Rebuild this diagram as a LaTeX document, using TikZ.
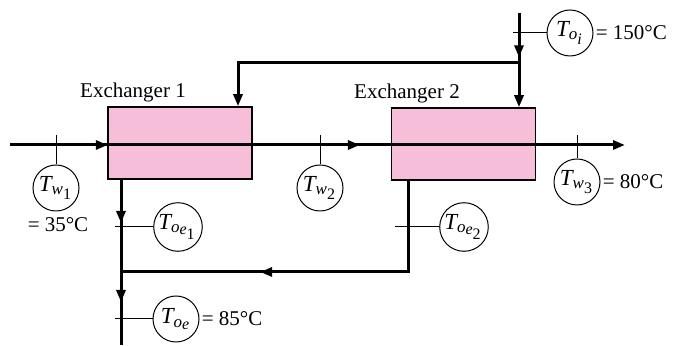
\documentclass[tikz,border=0pt]{standalone}
\usepackage{amsmath}
\usepackage{fontspec}
\setmainfont{Liberation Serif}
\usetikzlibrary{arrows.meta,decorations.markings}
\DeclareMathSizes{11.5}{11.5}{8.5}{8}
\definecolor{exfill}{RGB}{246,190,216}
\newcommand{\tprobe}[1]{\fontsize{11.5}{13}\selectfont$\textit{T}_{#1}$}
\tikzset{
  pipe/.style={line width=1.5pt},
  tickline/.style={line width=0.5pt},
  exch/.style={draw=black,line width=0.75pt,fill=exfill,minimum width=72pt,minimum height=36pt,inner sep=0pt},
  probe/.style={circle,draw=black,line width=0.5pt,minimum size=23pt,inner sep=0.3pt},
  tip/.style={-{Triangle[length=6pt,width=4.5pt]}},
  arrowat/.style={postaction={decorate,decoration={markings,mark=at position #1 with {\arrow{Triangle[length=6pt,width=4.5pt]}}}}},
  lbl/.style={inner sep=1pt},
}

\begin{document}
\begin{tikzpicture}[x=0.5pt,y=-0.5pt,font=\fontsize{10.5}{12}\selectfont]
  \useasboundingbox (0,0) rectangle (676,346);
  % exchangers
  \node[exch] (ex1) at (180,143) {};
  \node[exch] (ex2) at (463.5,144) {};
  \node[lbl] (ex1lbl) at (133,92) {Exchanger 1};
  \node[lbl] (ex2lbl) at (407,93) {Exchanger 2};
  % water line
  \coordinate (win) at (10,145); \coordinate (wout) at (625,145);
  \draw[pipe,tip,arrowat=0.159,arrowat=0.569] (win) -- (wout);
  % oil in
  \coordinate (oin) at (519,13); \coordinate (obr) at (519,63); \coordinate (obl) at (238,63);
  \draw[pipe,tip,arrowat=0.47] (oin) -- (oin |- ex2.north);
  \draw[pipe,tip] (obr) -- (obl) -- (obl |- ex1.north);
  % oil out
  \coordinate (o1top) at (121,179); \coordinate (o1bot) at (121,345);
  \draw[pipe,arrowat=0.265,arrowat=0.741] (o1top) -- (o1bot);
  \coordinate (o2top) at (408,180); \coordinate (o2bend) at (408,272); \coordinate (join) at (121,272);
  \draw[pipe,arrowat=0.633] (o2top) -- (o2bend) -- (join);
  % probes
  \node[probe] (toi) at (570,33) {\tprobe{\textit{o}_{\textit{i}}}};
  \node[probe] (tw1) at (56,188) {\tprobe{\textit{w}_{\text{1}}}};
  \node[probe] (tw2) at (320,188) {\tprobe{\textit{w}_{\text{2}}}};
  \node[probe] (tw3) at (577,182) {\tprobe{\textit{w}_{\text{3}}}};
  \node[probe] (toe1) at (178,227) {\tprobe{\textit{o}_{\textit{e}_{\text{1}}}}};
  \node[probe] (toe2) at (464,227) {\tprobe{\textit{o}_{\textit{e}_{\text{2}}}}};
  \node[probe] (toe) at (176,319) {\tprobe{\textit{o}_{\textit{e}}}};
  \coordinate (toitk) at (513,33); \coordinate (tw1tk) at (56,135);
  \coordinate (tw2tk) at (320,135); \coordinate (tw3tk) at (577,135);
  \coordinate (toe1tk) at (115,227); \coordinate (toe2tk) at (395,227);
  \coordinate (toetk) at (115,319);
  \draw[tickline] (toitk) -- (toi.west);
  \draw[tickline] (tw1tk) -- (tw1.north);
  \draw[tickline] (tw2tk) -- (tw2.north);
  \draw[tickline] (tw3tk) -- (tw3.north);
  \draw[tickline] (toe1tk) -- (toe1.west);
  \draw[tickline] (toe2tk) -- (toe2.west);
  \draw[tickline] (toetk) -- (toe.west);
  % values
  \node[lbl,right] (toival) at (toi.east) {= 150°C};
  \node[lbl] (tw1val) at (58,225) {= 35°C};
  \node[lbl,right] (tw3val) at (tw3.east) {= 80°C};
  \node[lbl,right] (toeval) at (toe.east) {= 85°C};
\end{tikzpicture}
\end{document}
